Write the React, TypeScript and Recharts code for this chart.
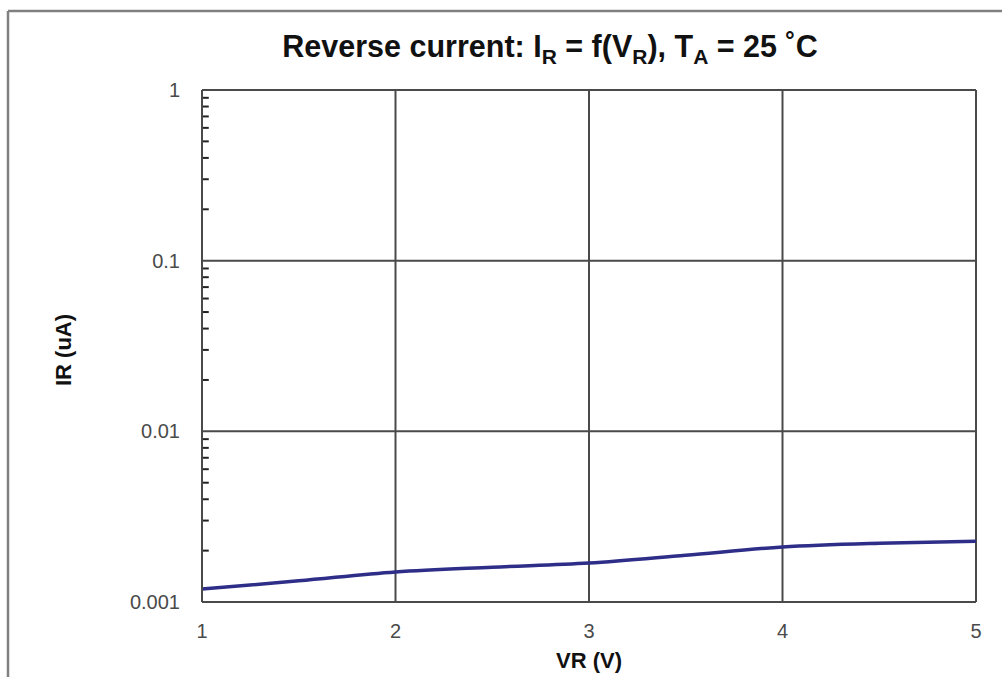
import { LineChart, Line, XAxis, YAxis, CartesianGrid, ReferenceLine } from 'recharts'

// VR (V) vs IR (uA)
const VR = [1, 1.5, 2, 2.5, 3, 3.5, 4, 4.5, 5]
const IR = [0.00119, 0.00133, 0.0015, 0.0016, 0.00169, 0.00188, 0.0021, 0.00221, 0.00227]

const X_TICKS = [1, 2, 3, 4, 5]
const Y_TICKS = [0.001, 0.01, 0.1, 1]
const Y_LABELS = ['0.001', '0.01', '0.1', '1']

// minor log ticks on the left axis: 2..9 in each decade
const MINOR_DECADES = [0.001, 0.01, 0.1]
const MINOR_STEPS = [2, 3, 4, 5, 6, 7, 8, 9]

const FONT = '"Liberation Sans", Arial, sans-serif'
const GRID = '#4a4a4a'

const data = VR.map((vr, i) => ({ vr, ir: IR[i] }))
const minorTicks = MINOR_DECADES.flatMap(d => MINOR_STEPS.map(s => +(d * s).toPrecision(3)))

const XTick = ({ x, y, payload }: any) => (
  <text x={x} y={y + 36} textAnchor="middle" fontSize={20} fill="#4a4a4a" fontFamily={FONT}>
    {payload.value}
  </text>
)

const YTick = ({ x, y, payload }: any) => (
  <text x={x} y={y + 7} textAnchor="end" fontSize={20} fill="#4a4a4a" fontFamily={FONT}>
    {Y_LABELS[Y_TICKS.indexOf(payload.value)] ?? payload.value}
  </text>
)

export default function App() {
  return (
    <div style={{ position: 'absolute', left: 0, top: 0, width: 1002, height: 677, background: '#fff' }}>
      <LineChart width={1002} height={677} data={data}
        margin={{ top: 90, right: 26, left: 142, bottom: 45 }}>
        <CartesianGrid stroke={GRID} strokeWidth={2} />
        <XAxis dataKey="vr" type="number" domain={[1, 5]} ticks={X_TICKS}
          height={30} tickLine={false} tickSize={0} tickMargin={0}
          axisLine={{ stroke: GRID, strokeWidth: 2 }} tick={<XTick />} />
        <YAxis type="number" scale="log" domain={[0.001, 1]} ticks={Y_TICKS}
          allowDataOverflow width={60} tickLine={false} tickSize={0} tickMargin={22}
          axisLine={{ stroke: GRID, strokeWidth: 2 }} tick={<YTick />} />
        {minorTicks.map(v => (
          <ReferenceLine key={v} segment={[{ x: 1, y: v }, { x: 1.035, y: v }]}
            stroke="#222" strokeWidth={2} ifOverflow="visible" />
        ))}
        <Line type="monotone" dataKey="ir" stroke="#2e2e88" strokeWidth={3.5}
          dot={false} isAnimationActive={false} />
      </LineChart>

      <svg width={1002} height={677}
        style={{ position: 'absolute', left: 0, top: 0, pointerEvents: 'none' }}>
        <line x1={8} y1={11} x2={8} y2={677} stroke="#808080" strokeWidth={2.5} />
        <line x1={8} y1={11} x2={1002} y2={11} stroke="#808080" strokeWidth={2.5} />
        <text x={550} y={57} textAnchor="middle" fontFamily={FONT} fontWeight="bold"
          fontSize={30.5} fill="#111">
          Reverse current: I<tspan fontSize={21} dy={7}>R</tspan>
          <tspan dy={-7}> = f(V</tspan><tspan fontSize={21} dy={7}>R</tspan>
          <tspan dy={-7}>), T</tspan><tspan fontSize={21} dy={7}>A</tspan>
          <tspan dy={-7}> = 25 ˚C</tspan>
        </text>
        <text x={589} y={668} textAnchor="middle" fontFamily={FONT} fontWeight="bold"
          fontSize={22} fill="#111">VR (V)</text>
        <text x={71} y={350} textAnchor="middle" fontFamily={FONT} fontWeight="bold"
          fontSize={22} fill="#111" transform="rotate(-90 71 350)">IR (uA)</text>
      </svg>
    </div>
  )
}
